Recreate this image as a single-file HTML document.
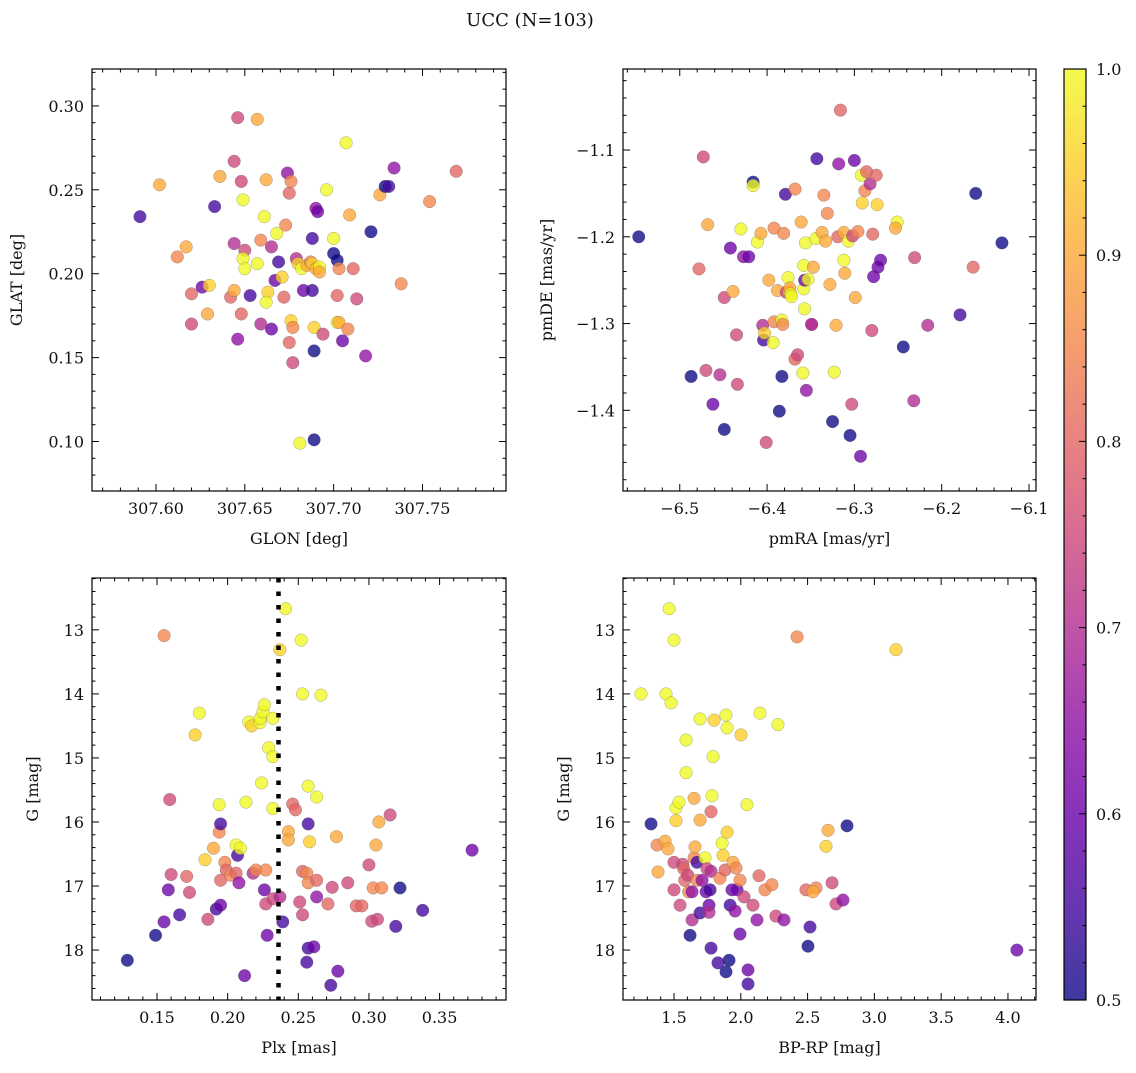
<!DOCTYPE html>
<html><head><meta charset="utf-8">
<style>
body{margin:0;background:#fff;}
svg text{font-family:"DejaVu Serif","Liberation Serif",serif;fill:#111;}
</style></head>
<body>
<svg id="fig" width="1136" height="1068" xmlns="http://www.w3.org/2000/svg">
<text x="530" y="26" font-size="18" text-anchor="middle">UCC (N=103)</text>
</svg>
<script>
// Panel 1: GLON vs GLAT
const p1x=[307.591,307.602,307.617,307.612,307.620,307.620,307.626,307.630,307.629,307.633,307.636,307.646,307.644,307.648,307.649,307.644,307.650,307.649,307.650,307.642,307.644,307.648,307.646,307.653,307.657,307.657,307.659,307.661,307.662,307.659,307.665,307.665,307.668,307.663,307.662,307.667,307.669,307.671,307.672,307.673,307.674,307.675,307.676,307.676,307.677,307.675,307.677,307.679,307.681,307.680,307.682,307.683,307.685,307.687,307.688,307.690,307.692,307.689,307.690,307.691,307.688,307.688,307.689,307.689,307.696,307.694,307.692,307.700,307.700,307.702,307.702,307.702,307.703,307.703,307.705,307.707,307.709,307.711,307.713,307.708,307.721,307.718,307.726,307.729,307.731,307.734,307.738,307.754,307.769];
const p1y=[0.234,0.253,0.216,0.210,0.188,0.170,0.192,0.193,0.176,0.240,0.258,0.293,0.267,0.255,0.244,0.218,0.214,0.209,0.203,0.186,0.190,0.176,0.161,0.187,0.292,0.206,0.220,0.234,0.256,0.170,0.167,0.216,0.224,0.189,0.183,0.196,0.207,0.198,0.186,0.229,0.260,0.248,0.255,0.172,0.168,0.159,0.147,0.209,0.099,0.206,0.203,0.190,0.205,0.207,0.206,0.203,0.204,0.168,0.239,0.237,0.221,0.190,0.154,0.101,0.250,0.164,0.201,0.212,0.221,0.208,0.187,0.171,0.203,0.171,0.160,0.278,0.235,0.203,0.185,0.167,0.225,0.151,0.247,0.252,0.252,0.263,0.194,0.243,0.261];
const p1c=[0.55,0.9,0.9,0.85,0.8,0.75,0.6,0.95,0.9,0.55,0.9,0.75,0.75,0.75,1.0,0.7,0.75,1.0,1.0,0.8,0.9,0.8,0.65,0.55,0.9,1.0,0.85,1.0,0.9,0.7,0.6,0.7,1.0,0.95,1.0,0.6,0.55,0.95,0.8,0.85,0.65,0.8,0.85,0.95,0.85,0.8,0.75,0.7,1.0,0.95,1.0,0.6,0.9,0.85,0.95,0.9,1.0,0.95,0.65,0.6,0.55,0.55,0.5,0.5,1.0,0.75,0.9,0.5,1.0,0.5,0.8,1.0,0.85,0.9,0.6,1.0,0.9,0.8,0.75,0.85,0.5,0.65,0.9,0.5,0.55,0.65,0.85,0.85,0.8];
// Panel 2: pmRA vs pmDE
const p2x=[-6.547,-6.487,-6.473,-6.478,-6.470,-6.468,-6.462,-6.454,-6.449,-6.449,-6.442,-6.439,-6.435,-6.434,-6.430,-6.427,-6.421,-6.416,-6.416,-6.411,-6.407,-6.405,-6.404,-6.403,-6.401,-6.398,-6.393,-6.392,-6.392,-6.388,-6.383,-6.382,-6.386,-6.383,-6.381,-6.379,-6.378,-6.376,-6.375,-6.374,-6.373,-6.372,-6.368,-6.368,-6.365,-6.361,-6.359,-6.358,-6.358,-6.357,-6.357,-6.356,-6.355,-6.353,-6.349,-6.347,-6.344,-6.343,-6.349,-6.337,-6.335,-6.333,-6.331,-6.328,-6.325,-6.323,-6.321,-6.319,-6.318,-6.316,-6.312,-6.312,-6.311,-6.307,-6.305,-6.302,-6.303,-6.300,-6.299,-6.296,-6.293,-6.292,-6.291,-6.288,-6.286,-6.282,-6.280,-6.279,-6.278,-6.275,-6.274,-6.273,-6.270,-6.251,-6.253,-6.244,-6.232,-6.231,-6.216,-6.179,-6.164,-6.161,-6.131];
const p2y=[-1.200,-1.361,-1.108,-1.237,-1.354,-1.186,-1.393,-1.359,-1.270,-1.422,-1.213,-1.263,-1.313,-1.370,-1.191,-1.223,-1.223,-1.137,-1.141,-1.206,-1.196,-1.302,-1.319,-1.311,-1.437,-1.250,-1.322,-1.298,-1.190,-1.262,-1.296,-1.301,-1.401,-1.361,-1.196,-1.151,-1.264,-1.247,-1.263,-1.259,-1.266,-1.269,-1.145,-1.341,-1.336,-1.183,-1.357,-1.260,-1.233,-1.283,-1.250,-1.207,-1.377,-1.249,-1.301,-1.235,-1.202,-1.110,-1.301,-1.195,-1.152,-1.205,-1.173,-1.255,-1.413,-1.356,-1.302,-1.200,-1.116,-1.054,-1.195,-1.227,-1.242,-1.205,-1.429,-1.199,-1.393,-1.112,-1.270,-1.194,-1.453,-1.129,-1.161,-1.147,-1.125,-1.139,-1.308,-1.197,-1.246,-1.129,-1.163,-1.235,-1.227,-1.183,-1.190,-1.327,-1.389,-1.224,-1.302,-1.290,-1.235,-1.150,-1.207];
const p2c=[0.5,0.5,0.75,0.8,0.75,0.9,0.6,0.7,0.75,0.5,0.6,0.9,0.75,0.75,1.0,0.65,0.6,0.5,1.0,1.0,0.9,0.7,0.55,0.95,0.75,0.9,1.0,0.85,0.85,0.9,1.0,0.85,0.5,0.5,0.85,0.55,0.75,1.0,0.9,0.9,1.0,1.0,0.85,0.8,0.75,0.9,1.0,1.0,1.0,1.0,0.6,1.0,0.65,1.0,0.7,0.9,1.0,0.55,0.7,0.9,0.85,0.9,0.85,0.9,0.5,1.0,0.9,0.8,0.65,0.8,0.9,1.0,0.9,1.0,0.5,0.75,0.75,0.6,0.9,0.85,0.6,1.0,0.95,0.85,0.8,0.7,0.75,0.8,0.6,0.8,0.95,0.6,0.6,1.0,0.9,0.5,0.7,0.75,0.7,0.55,0.8,0.5,0.5];
// Panel 3: Plx vs G
const p3x=[0.129,0.149,0.155,0.155,0.158,0.159,0.160,0.166,0.171,0.173,0.180,0.177,0.184,0.186,0.190,0.192,0.194,0.194,0.195,0.195,0.195,0.198,0.199,0.202,0.206,0.206,0.207,0.209,0.208,0.212,0.213,0.215,0.217,0.218,0.220,0.223,0.223,0.225,0.226,0.224,0.226,0.227,0.227,0.228,0.229,0.232,0.232,0.232,0.232,0.237,0.237,0.241,0.243,0.243,0.239,0.246,0.248,0.251,0.252,0.253,0.253,0.253,0.256,0.257,0.257,0.257,0.257,0.258,0.261,0.263,0.263,0.263,0.266,0.256,0.273,0.278,0.271,0.274,0.277,0.285,0.291,0.295,0.300,0.303,0.302,0.307,0.306,0.309,0.305,0.315,0.319,0.322,0.338,0.373];
const p3y=[18.16,17.77,13.09,17.56,17.06,15.65,16.82,17.45,16.85,17.10,14.30,14.64,16.59,17.52,16.41,17.36,16.16,15.73,16.91,16.03,17.30,16.63,16.75,16.83,16.80,16.36,16.52,16.41,16.95,18.40,15.69,14.44,14.50,16.80,16.75,14.45,14.38,14.28,14.17,15.39,17.06,16.75,17.28,17.77,14.84,17.20,14.38,14.98,15.79,13.31,17.17,12.67,16.15,16.28,17.56,15.72,15.81,17.25,13.16,14.00,16.77,17.45,16.80,16.03,15.44,17.97,16.95,16.31,17.95,15.61,16.91,17.17,14.02,18.19,18.55,18.33,17.28,17.02,16.23,16.95,17.31,17.31,16.67,17.03,17.55,16.00,17.52,17.03,16.36,15.89,17.63,17.03,17.38,16.44];
const p3c=[0.5,0.5,0.85,0.6,0.6,0.75,0.75,0.55,0.8,0.75,1.0,0.95,0.95,0.75,0.9,0.55,0.85,1.0,0.8,0.55,0.6,0.85,0.8,0.85,0.8,1.0,0.55,1.0,0.65,0.6,1.0,1.0,0.95,0.7,0.85,1.0,1.0,1.0,1.0,1.0,0.6,0.85,0.75,0.6,1.0,0.75,1.0,1.0,1.0,0.95,0.7,1.0,0.9,0.9,0.55,0.8,0.8,0.75,1.0,1.0,0.8,0.75,0.85,0.55,1.0,0.55,0.85,0.95,0.6,1.0,0.8,0.65,1.0,0.55,0.55,0.6,0.8,0.75,0.9,0.75,0.8,0.8,0.75,0.85,0.75,0.9,0.75,0.85,0.9,0.75,0.55,0.5,0.55,0.6];
const plxLine=0.236;
// Panel 4: BP-RP vs G
const p4x=[1.253,1.328,1.373,1.380,1.440,1.463,1.478,1.500,1.433,1.455,1.500,1.500,1.515,1.537,1.515,1.545,1.565,1.572,1.590,1.590,1.580,1.602,1.610,1.620,1.635,1.635,1.650,1.650,1.657,1.672,1.672,1.695,1.695,1.695,1.710,1.732,1.740,1.747,1.762,1.762,1.777,1.792,1.784,1.800,1.770,1.777,1.777,1.829,1.844,1.860,1.867,1.882,1.889,1.889,1.897,1.897,1.912,1.920,1.934,1.942,1.964,1.957,1.972,1.994,1.994,2.001,2.024,2.046,2.054,2.054,2.091,2.136,2.144,2.181,2.121,2.263,2.233,2.323,2.278,2.421,2.488,2.503,2.563,2.518,2.540,2.638,2.653,2.683,2.713,2.765,2.795,3.162,4.067];
const p4y=[14.00,16.03,16.36,16.78,14.00,12.67,14.14,13.16,16.30,16.42,16.63,17.06,15.78,15.69,15.98,17.30,16.66,16.73,14.72,15.23,16.91,16.83,17.09,17.77,17.53,17.09,15.63,16.56,16.39,16.63,16.91,14.39,17.42,15.97,16.91,16.56,17.09,16.73,17.30,17.41,15.84,14.98,15.59,14.41,17.06,17.97,16.77,18.20,16.88,16.33,16.52,16.75,18.34,14.33,14.53,16.16,18.16,17.30,17.06,16.63,16.72,17.39,17.06,17.75,16.91,14.64,17.17,15.73,18.31,18.53,17.30,16.84,14.30,17.06,17.53,17.47,16.98,17.53,14.48,13.11,17.06,17.94,17.03,17.64,17.09,16.38,16.13,16.95,17.28,17.22,16.06,13.31,18.00];
const p4c=[1.0,0.5,0.85,0.9,1.0,1.0,1.0,1.0,0.9,0.9,0.75,0.75,1.0,1.0,0.95,0.75,0.75,0.8,1.0,1.0,0.8,0.75,0.85,0.5,0.7,0.65,0.9,0.85,0.9,0.55,0.85,1.0,0.55,0.9,0.65,1.0,0.6,0.75,0.6,0.7,0.8,1.0,1.0,0.95,0.55,0.55,0.7,0.55,0.85,1.0,0.95,0.8,0.5,1.0,1.0,0.95,0.5,0.55,0.6,0.9,0.85,0.65,0.6,0.6,0.85,0.95,0.75,1.0,0.6,0.55,0.75,0.8,1.0,0.85,0.65,0.75,0.85,0.65,1.0,0.85,0.8,0.5,0.85,0.55,0.9,0.95,0.9,0.75,0.75,0.65,0.5,0.95,0.6];
const cbTicks=[0.5,0.6,0.7,0.8,0.9,1.0];

const NS="http://www.w3.org/2000/svg";
const svg=document.getElementById('fig');
function mk(tag,attrs,parent){const e=document.createElementNS(NS,tag);for(const k in attrs)e.setAttribute(k,attrs[k]);(parent||svg).appendChild(e);return e;}
const stops=[[13,8,135],[65,4,157],[106,0,168],[143,13,164],[177,42,144],[204,71,120],[225,100,98],[242,132,75],[252,166,54],[252,206,37],[240,249,33]];
function plasma(t){t=Math.max(0,Math.min(1,t))*10;const i=Math.min(9,Math.floor(t)),f=t-i;const a=stops[i],b=stops[i+1];return 'rgb('+a.map((v,k)=>Math.round(v+(b[k]-v)*f)).join(',')+')';}
function cnorm(v){return (v-0.5)/0.5;}

function panel(o){
  const g=mk('g',{});
  
  
  const sx=v=>o.L+(v-o.x0)/(o.x1-o.x0)*(o.R-o.L);
  const sy=v=>o.B-(v-o.y0)/(o.y1-o.y0)*(o.B-o.T);
  const pg=mk('g',{},g);
  for(let i=0;i<o.xs.length;i++){
    const c=mk('circle',{cx:sx(o.xs[i]),cy:sy(o.ys[i]),r:6.3,fill:plasma(cnorm(o.cs[i])),'fill-opacity':0.78,stroke:'#555','stroke-opacity':0.5,'stroke-width':0.5},pg);
    
    
  }
  if(o.vline!==undefined){
    const l=mk('line',{x1:sx(o.vline),x2:sx(o.vline),y1:o.T,y2:o.B,stroke:'#000','stroke-width':4.5,'stroke-dasharray':'4.5 9'},g);
    
    
  }
  const fr=mk('rect',{x:o.L,y:o.T,width:o.R-o.L,height:o.B-o.T,fill:'none',stroke:'#000','stroke-width':1.2},g);
  
  
  const eps=1e-9;
  const xmin=Math.ceil(Math.min(o.x0,o.x1)/o.xm-eps);const xmax=Math.floor(Math.max(o.x0,o.x1)/o.xm+eps);
  for(let k=xmin;k<=xmax;k++){const v=k*o.xm;const X=sx(v);const maj=Math.abs(v/o.xM-Math.round(v/o.xM))<1e-6;const len=maj?7:3.5;
    mk('line',{x1:X,x2:X,y1:o.B,y2:o.B-len,stroke:'#000','stroke-width':1},g);mk('line',{x1:X,x2:X,y1:o.T,y2:o.T+len,stroke:'#000','stroke-width':1},g);
    if(maj){const t=mk('text',{x:X,y:o.B+23,'font-size':16,'text-anchor':'middle'},g);t.textContent=o.xf(v);}}
  const ymin=Math.ceil(Math.min(o.y0,o.y1)/o.ym-eps);const ymax=Math.floor(Math.max(o.y0,o.y1)/o.ym+eps);
  for(let k=ymin;k<=ymax;k++){const v=k*o.ym;const Y=sy(v);const maj=Math.abs(v/o.yM-Math.round(v/o.yM))<1e-6;const len=maj?7:3.5;
    mk('line',{x1:o.L,x2:o.L+len,y1:Y,y2:Y,stroke:'#000','stroke-width':1},g);mk('line',{x1:o.R,x2:o.R-len,y1:Y,y2:Y,stroke:'#000','stroke-width':1},g);
    if(maj){const t=mk('text',{x:o.L-8,y:Y+6,'font-size':16,'text-anchor':'end'},g);t.textContent=o.yf(v);}}
  const xl=mk('text',{x:(o.L+o.R)/2,y:o.B+53,'font-size':16,'text-anchor':'middle'},g);xl.textContent=o.xl;
  
  const yx=o.L-o.ylOff, yy=(o.T+o.B)/2;
  const yl=mk('text',{x:yx,y:yy,'font-size':16,'text-anchor':'middle',transform:'rotate(-90 '+yx+' '+yy+')'},g);yl.textContent=o.yl;
  
}
const minus=s=>s.replace('-','\u2212');
panel({name:'glon-glat-panel',L:92,R:506,T:69,B:491,x0:307.564,x1:307.797,y0:0.0705,y1:0.322,xs:p1x,ys:p1y,cs:p1c,xM:0.05,xm:0.01,yM:0.05,ym:0.01,xf:v=>v.toFixed(2),yf:v=>v.toFixed(2),xl:'GLON [deg]',yl:'GLAT [deg]',ylOff:70});
panel({name:'pm-panel',L:623,R:1036,T:69,B:491,x0:-6.565,x1:-6.092,y0:-1.493,y1:-1.0066,xs:p2x,ys:p2y,cs:p2c,xM:0.1,xm:0.02,yM:0.1,ym:0.02,xf:v=>minus(v.toFixed(1)),yf:v=>minus(v.toFixed(1)),xl:'pmRA [mas/yr]',yl:'pmDE [mas/yr]',ylOff:71});
panel({name:'plx-g-panel',L:92,R:506,T:578,B:1000,x0:0.104,x1:0.397,y0:18.78,y1:12.19,xs:p3x,ys:p3y,cs:p3c,xM:0.05,xm:0.01,yM:1,ym:0.2,xf:v=>v.toFixed(2),yf:v=>v.toFixed(0),xl:'Plx [mas]',yl:'G [mag]',ylOff:54,vline:plxLine});
panel({name:'cmd-panel',L:623,R:1036,T:578,B:1000,x0:1.118,x1:4.21,y0:18.78,y1:12.19,xs:p4x,ys:p4y,cs:p4c,xM:0.5,xm:0.1,yM:1,ym:0.2,xf:v=>v.toFixed(1),yf:v=>v.toFixed(0),xl:'BP-RP [mag]',yl:'G [mag]',ylOff:54});

const cg=mk('g',{});


const defs=mk('defs',{},cg);
const lg=mk('linearGradient',{id:'plg',x1:0,y1:1,x2:0,y2:0},defs);
for(let i=0;i<=10;i++)mk('stop',{offset:i/10,'stop-color':plasma(i/10)},lg);
const cbT=69,cbB=1000,cbL=1064,cbR=1086;
mk('rect',{x:cbL,y:cbT,width:cbR-cbL,height:cbB-cbT,fill:'url(#plg)','fill-opacity':0.8},cg);
mk('rect',{x:cbL,y:cbT,width:cbR-cbL,height:cbB-cbT,fill:'none',stroke:'#000','stroke-width':1.2},cg);
const cy=v=>cbB-(v-0.5)/0.5*(cbB-cbT);
for(let k=25;k<=50;k++){const v=k/50;const Y=cy(v);const maj=k%5===0;mk('line',{x1:cbR,x2:cbR-(maj?7:3.5),y1:Y,y2:Y,stroke:'#000','stroke-width':1},cg);}
cbTicks.forEach(v=>{const t=mk('text',{x:cbR+10,y:cy(v)+6,'font-size':16},cg);t.textContent=v.toFixed(1);
  
  });
</script>
</body></html>
